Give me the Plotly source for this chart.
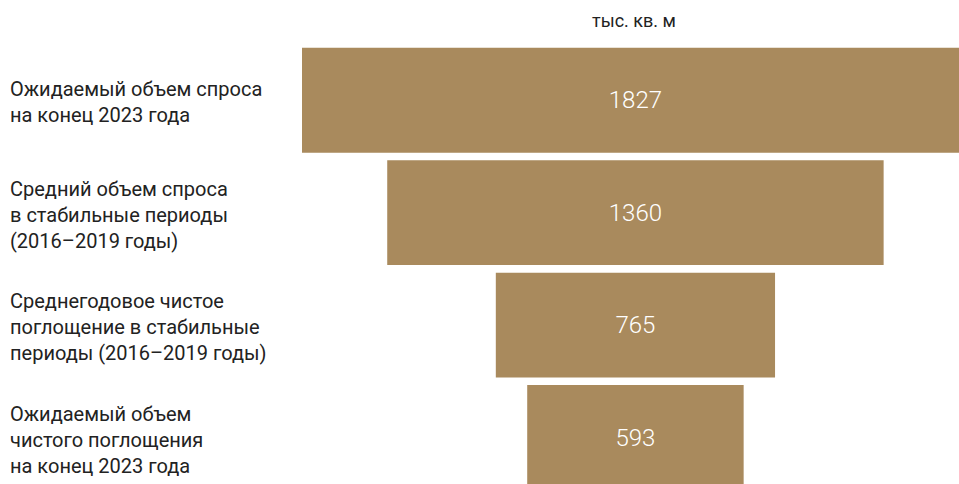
import plotly.graph_objects as go

categories = [
    "Ожидаемый объем спроса<br>на конец 2023 года",
    "Средний объем спроса<br>в стабильные периоды<br>(2016–2019 годы)",
    "Среднегодовое чистое<br>поглощение в стабильные<br>периоды (2016–2019 годы)",
    "Ожидаемый объем<br>чистого поглощения<br>на конец 2023 года",
]
values = [1827, 1360, 765, 593]
unit_label = "тыс. кв. м"

W, H = 959, 484
FONT = "Roboto"
BAR = "#a98a5d"

fig = go.Figure(go.Funnel(
    y=categories,
    x=values,
    textinfo="value",
    textposition="inside",
    insidetextanchor="middle",
    textfont=dict(family=FONT, size=24, color="white", weight=300),
    marker=dict(color=BAR, line=dict(width=0)),
    connector=dict(visible=False),
    hoverinfo="skip",
))

left_px = 302
top_px = 44
fig.update_layout(
    width=W, height=H,
    margin=dict(l=0, r=0, t=top_px, b=0),
    paper_bgcolor="white", plot_bgcolor="white",
    showlegend=False,
    funnelgap=0.067,
    xaxis=dict(domain=[left_px / W, 1], range=[-913.5, 886.5], visible=False, fixedrange=True),
    yaxis=dict(range=[3.413, -0.5], visible=False, fixedrange=True),
    font=dict(family=FONT, color="#222222"),
)

for i, c in enumerate(categories):
    fig.add_annotation(
        x=8 / W, xref="paper", xanchor="left",
        y=i, yref="y", yanchor="middle", yshift=-2,
        text=c, showarrow=False, align="left",
        font=dict(family=FONT, size=20, color="#222222"),
    )

fig.add_annotation(
    x=634 / W, xref="paper", xanchor="center",
    y=(H - 20) / (H - top_px), yref="paper", yanchor="middle",
    text=unit_label, showarrow=False,
    font=dict(family=FONT, size=18, color="#222222"),
)

fig.write_html("out.html")
